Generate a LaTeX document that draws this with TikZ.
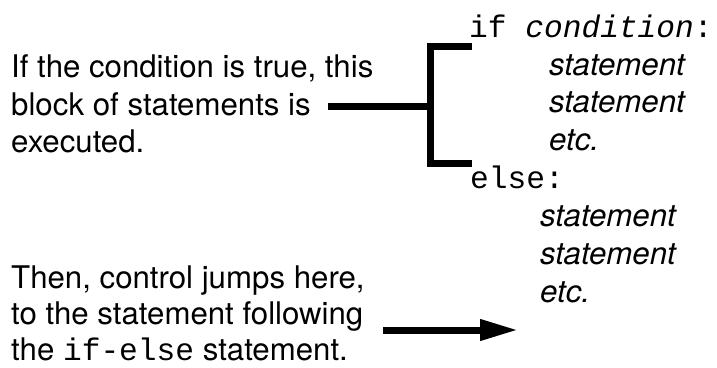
\documentclass[tikz,border=0pt]{standalone}
\usepackage{fontspec}
\setmainfont{TeX Gyre Heros}
\newfontfamily\codefont{Liberation Mono}
\usetikzlibrary{arrows.meta}

\newcommand{\kw}[1]{{\codefont #1}}

\begin{document}
\begin{tikzpicture}[
  x=1pt, y=1pt,
  note/.style={anchor=base west, inner sep=0pt, align=left, font=\fontsize{31.2}{37.5}\selectfont},
  code/.style={anchor=base west, inner sep=0pt, align=left, font=\fontsize{31.2}{37.6}\selectfont\codefont},
  body/.style={anchor=base west, inner sep=0pt, align=left, font=\fontsize{31.2}{37.6}\selectfont\itshape},
  bar/.style={draw, line width=7pt},
  jump/.style={draw, line width=7pt, -{Triangle[length=38pt, width=20pt]}}
]
\useasboundingbox (0,0) rectangle (717,367);

% multi-line nodes sit on the baseline of their last line
\node [note] (blocktext) at (11,214) {If the condition is true, this\\ block of statements is\\ executed.};
\node [note, font=\fontsize{31.2}{36}\selectfont] (jumptext) at (11,7) {Then, control jumps here,\\ to the statement following\\ the \kw{if-else} statement.};
\node [code] (ifcode) at (469,329.5) {if \textit{condition}:};
\node [body] (ifbody) at (549,216.5) {statement\\ statement\\ etc.};
\node [code] (elsecode) at (470,178) {else:};
\node [body] (elsebody) at (540,65) {statement\\ statement\\ etc.};

\coordinate (stem) at (328,260);
\coordinate (fork) at (430,260);
\coordinate (armtop) at (472,320);
\coordinate (armbot) at (472,203);
\coordinate (tail) at (383,37);
\coordinate (land) at (518,37);

\path [bar] (stem) -- (fork);
\path [bar] (armtop) -| (fork) |- (armbot);
\path [jump] (tail) -- (land);
\end{tikzpicture}
\end{document}
